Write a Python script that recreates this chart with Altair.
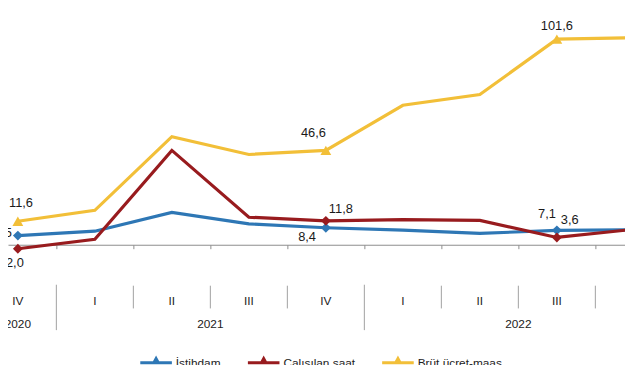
import altair as alt
import pandas as pd

quarters = ["IV", "I", "II", "III", "IV", "I", "II", "III", "IV"]
years = ["2020", "2021", "2021", "2021", "2021", "2022", "2022", "2022", "2022"]
series = ["İstihdam", "Çalışılan saat", "Brüt ücret-maaş"]
istihdam = [4.5, 6.7, 16.0, 10.3, 8.4, 7.2, 5.6, 7.1, 7.4]
calisilan = [-2.0, 2.7, 46.6, 13.6, 11.8, 12.4, 12.0, 3.6, 7.6]
brut = [11.6, 17.0, 53.4, 44.6, 46.6, 68.9, 74.2, 101.6, 102.3]
marked = [0, 4, 7, 8]
colors = ["#2e77b5", "#981b1e", "#f2bf38"]

FONT = "Liberation Sans"

rows = []
for name, vals in zip(series, [istihdam, calisilan, brut]):
    for i, v in enumerate(vals):
        rows.append({"idx": i, "q": quarters[i], "year": years[i], "series": name,
                     "value": v, "marked": i in marked})
df = pd.DataFrame(rows)

qdf = pd.DataFrame({"idx": list(range(len(quarters))), "q": quarters, "year": years})
ydf = qdf.groupby("year", as_index=False)["idx"].mean()
bdf = pd.DataFrame({
    "b": [i + 0.5 for i in range(len(quarters) - 1)],
    "yearsep": [years[i] != years[i + 1] for i in range(len(quarters) - 1)],
})

xscale = alt.Scale(domain=[-0.128, 7.885], nice=False, zero=False)
yscale = alt.Scale(domain=[-5.13, 115.85], nice=False, zero=False)
cscale = alt.Scale(domain=series, range=colors)

legend_path = "M-1,-0.1L1,-0.1L1,0.1L-1,0.1Z M-0.3,0.1L0,-0.45L0.3,0.1Z"
legend = alt.Legend(orient="bottom", offset=-41, padding=134,
                    direction="horizontal", title=None,
                    symbolType=legend_path, symbolSize=1024,
                    symbolStrokeWidth=0,
                    labelFont=FONT, labelFontSize=12, labelColor="#222",
                    columnPadding=27, labelOffset=4)

base = alt.Chart(df)

lines = base.mark_line(strokeWidth=3.2, strokeJoin="miter").encode(
    x=alt.X("idx:Q", scale=xscale,
            axis=alt.Axis(values=[b + 0.5 for b in range(8)], labels=False, title=None,
                          grid=False, domainColor="#8c8c8c", tickColor="#8c8c8c",
                          tickSize=4, offset=-10.5, domainWidth=1)),
    y=alt.Y("value:Q", scale=yscale, axis=None),
    color=alt.Color("series:N", scale=cscale, sort=series, legend=legend),
    detail="series:N",
)

pts_d = base.mark_point(shape="diamond", filled=True, size=100, opacity=1).encode(
    x=alt.X("idx:Q", scale=xscale),
    y=alt.Y("value:Q", scale=yscale),
    color=alt.Color("series:N", scale=cscale, sort=series),
).transform_filter(alt.datum.marked).transform_filter(
    alt.FieldOneOfPredicate(field="series", oneOf=series[:2]))

pts_t = base.mark_point(shape="triangle-up", filled=True, size=120, opacity=1).encode(
    x=alt.X("idx:Q", scale=xscale),
    y=alt.Y("value:Q", scale=yscale),
    color=alt.Color("series:N", scale=cscale, sort=series),
).transform_filter(alt.datum.marked).transform_filter(
    alt.FieldEqualPredicate(field="series", equal=series[2]))


def label(sname, i, align, dx, dy):
    return base.transform_filter(
        (alt.datum.series == sname) & (alt.datum.idx == i)
    ).transform_calculate(
        lab="replace(format(datum.value, '.1f'), '.', ',')"
    ).mark_text(align=align, baseline="middle", dx=dx, dy=dy, font=FONT,
                fontSize=13, color="#1a1a1a").encode(
        x=alt.X("idx:Q", scale=xscale),
        y=alt.Y("value:Q", scale=yscale),
        text="lab:N",
    )


labels = [
    label(series[2], 0, "left", -9, -18),
    label(series[0], 0, "right", -6, -3),
    label(series[1], 0, "right", 6, 14),
    label(series[2], 4, "right", 0, -18),
    label(series[1], 4, "left", 3, -12),
    label(series[0], 4, "right", -10, 9),
    label(series[2], 7, "center", 0, -13),
    label(series[0], 7, "right", -1, -17),
    label(series[1], 7, "left", 4, -18),
]

qlabels = alt.Chart(qdf).mark_text(font=FONT, fontSize=12, color="#222",
                                   baseline="middle").encode(
    x=alt.X("idx:Q", scale=xscale), y=alt.value(294.5), text="q:N")
ylabels = alt.Chart(ydf).mark_text(font=FONT, fontSize=12, color="#222",
                                   baseline="middle").encode(
    x=alt.X("idx:Q", scale=xscale), y=alt.value(318), text="year:N")
qsep = alt.Chart(bdf).transform_filter(~alt.datum.yearsep).mark_rule(
    color="#a0a0a0", strokeWidth=1).encode(
    x=alt.X("b:Q", scale=xscale), y=alt.value(279), y2=alt.value(302))
ysep = alt.Chart(bdf).transform_filter(alt.datum.yearsep).mark_rule(
    color="#a0a0a0", strokeWidth=1).encode(
    x=alt.X("b:Q", scale=xscale), y=alt.value(278), y2=alt.value(324))

chart = alt.layer(lines, pts_d, pts_t, *labels, qlabels, ylabels, qsep, ysep).properties(
    width=625, height=248,
    autosize=alt.AutoSizeParams(type="none"),
    padding={"left": 0, "top": 0, "right": 0, "bottom": 109},
).configure_view(stroke=None)

chart.save("out.html", embed_options={"renderer": "svg", "actions": False})
